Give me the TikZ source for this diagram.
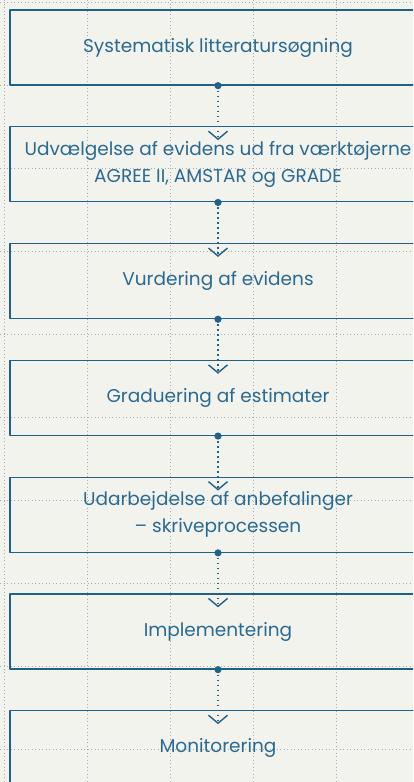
\documentclass[tikz,border=0pt]{standalone}
\usepackage{fontspec}
\setmainfont{Poppins}
\usetikzlibrary{arrows.meta,positioning,calc}
\definecolor{bgcream}{HTML}{F3F3EE}
\definecolor{boxblue}{HTML}{1F6188}
\definecolor{textblue}{HTML}{2A6A90}
\definecolor{griddot}{HTML}{A3A9C2}
\begin{document}
\begin{tikzpicture}[x=1pt,y=-1pt,font=\fontsize{18.5}{27}\selectfont,line join=round,
		node distance=40.5pt,
		stepbox/.style={draw=boxblue,line width=1.3pt,text=textblue,minimum width=416pt,minimum height=75pt,align=center,inner sep=0pt},
		gridline/.style={griddot,line width=0.9pt,dash pattern=on 0.9pt off 2.6pt},
		flow/.style={boxblue,line width=1.6pt,dash pattern=on 1.6pt off 3.4pt,-{Straight Barb[length=8pt,width=19pt,line width=1.4pt]}}]
	\useasboundingbox (0,0) rectangle (413,782);
	\clip (0,0) rectangle (413,782);
	\fill[bgcream] (0,0) rectangle (413,782);
	% baggrundsgitter
	\foreach \gx in {4.5,87.5,...,340} \draw[gridline] (\gx,0)--(\gx,782);
	\foreach \gy in {2,85,...,782} \draw[gridline] (0,\gy)--(413,\gy);
	% trin
	\node[stepbox] (soeg) at (218,47.5) {Systematisk litteratursøgning};
	\node[stepbox,below=of soeg] (udvaelg) {Udvælgelse af evidens ud fra værktøjerne\\AGREE II, AMSTAR og GRADE};
	\node[stepbox,below=of udvaelg] (vurder) {Vurdering af evidens};
	\node[stepbox,below=of vurder] (gradu) {Graduering af estimater};
	\node[stepbox,below=of gradu] (udarb) {Udarbejdelse af anbefalinger\\– skriveprocessen};
	\node[stepbox,below=of udarb] (implem) {Implementering};
	\node[stepbox,below=of implem] (monitor) {Monitorering};
	% forbindelser
	\foreach \a/\b in {soeg/udvaelg,udvaelg/vurder,vurder/gradu,gradu/udarb,udarb/implem,implem/monitor}{
		\draw[flow] (\a.south)--($(\b.north)+(0,14)$);
		\fill[boxblue] (\a.south) circle (3.6);
	}
\end{tikzpicture}
\end{document}
